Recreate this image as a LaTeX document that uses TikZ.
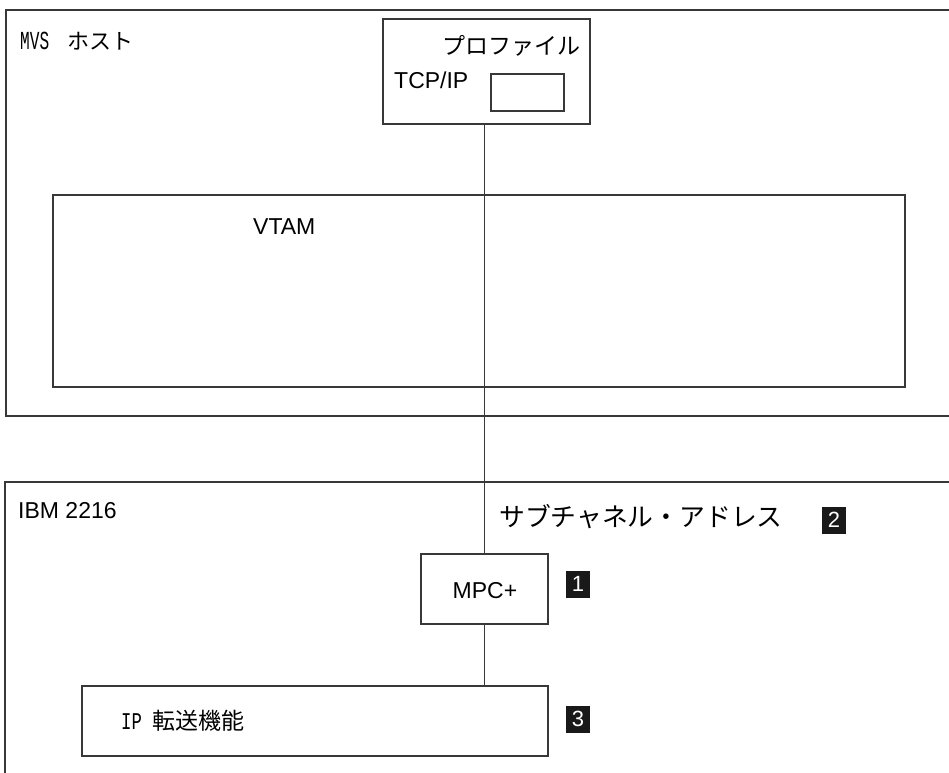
\documentclass[tikz,border=0pt]{standalone}
\usepackage{fontspec}
\setmainfont{Liberation Sans}
\newfontfamily\jp{Noto Sans CJK JP}
\newfontfamily\monof[FakeStretch=0.72]{Liberation Mono}
\newfontfamily\monon[FakeStretch=0.62]{Liberation Mono}
\definecolor{ln}{gray}{0.22}
\tikzset{
  box/.style={draw=ln, line width=1.4pt, inner sep=0pt},
  wire/.style={draw=ln, line width=1pt},
  lat/.style={font=\fontsize{23}{27}\selectfont, inner sep=0pt},
  badge/.style={fill=black!90, text=white, inner sep=0pt, minimum width=24pt, minimum height=27pt, font=\fontsize{22}{24}\selectfont},
}
\begin{document}
\begin{tikzpicture}[x=1pt, y=-1pt]
\useasboundingbox (0,0) rectangle (949,772);
% containers (open on the right)
\draw[box] (952,10) -- (6,10) -- (6,416) -- (952,416);
\draw[box] (952,482) -- (5,482) -- (5,775);
% profile box
\node[box, minimum width=207pt, minimum height=105pt] (prof) at (486.5,71.5) {};
\node[box, minimum width=73pt, minimum height=37pt] (slot) at (527.5,92.5) {};
\node[anchor=base east, inner sep=0pt, font=\jp\fontsize{23}{27}\selectfont] (proftxt) at (581,54) {プロファイル};
\node[lat, anchor=base west] (tcp) at (394,88) {TCP/IP};
% MVS label
\node[anchor=base west, inner sep=0pt] (mvs) at (20,49) {\monon\fontsize{26}{28}\selectfont MVS\hspace{18pt}\jp\fontsize{22}{26}\selectfont ホスト};
% VTAM box
\node[box, minimum width=852pt, minimum height=192pt] (vtam) at (479,291) {};
\node[lat, anchor=base west] (vtamtxt) at (253,234) {VTAM};
% IBM
\node[lat, anchor=base west] (ibm) at (18,518) {IBM 2216};
\node[anchor=base west, inner sep=0pt, font=\jp\fontsize{25.8}{29}\selectfont] (sub) at (499,526) {サブチャネル・アドレス};
\node[badge] (b2) at (834,520) {2};
% MPC+
\node[box, minimum width=127pt, minimum height=70pt] (mpc) at (484.5,589) {};
\node[lat, anchor=base] (mpctxt) at (485,598) {MPC+};
\node[badge] (b1) at (578,584) {1};
% IP forwarding
\node[anchor=base west, inner sep=0pt] (iptxt) at (121,729) {\monof\fontsize{24}{26}\selectfont IP\hspace{11pt}\jp\fontsize{23}{26}\selectfont 転送機能};
\node[box, minimum width=466pt, minimum height=70pt] (ip) at (315,721) {};
\node[badge] (b3) at (578,719) {3};
% connectors
\draw[wire] (mpc.north |- prof.south) -- (mpc.north);
\draw[wire] (mpc.south) -- (mpc.south |- ip.north);
\end{tikzpicture}
\end{document}
